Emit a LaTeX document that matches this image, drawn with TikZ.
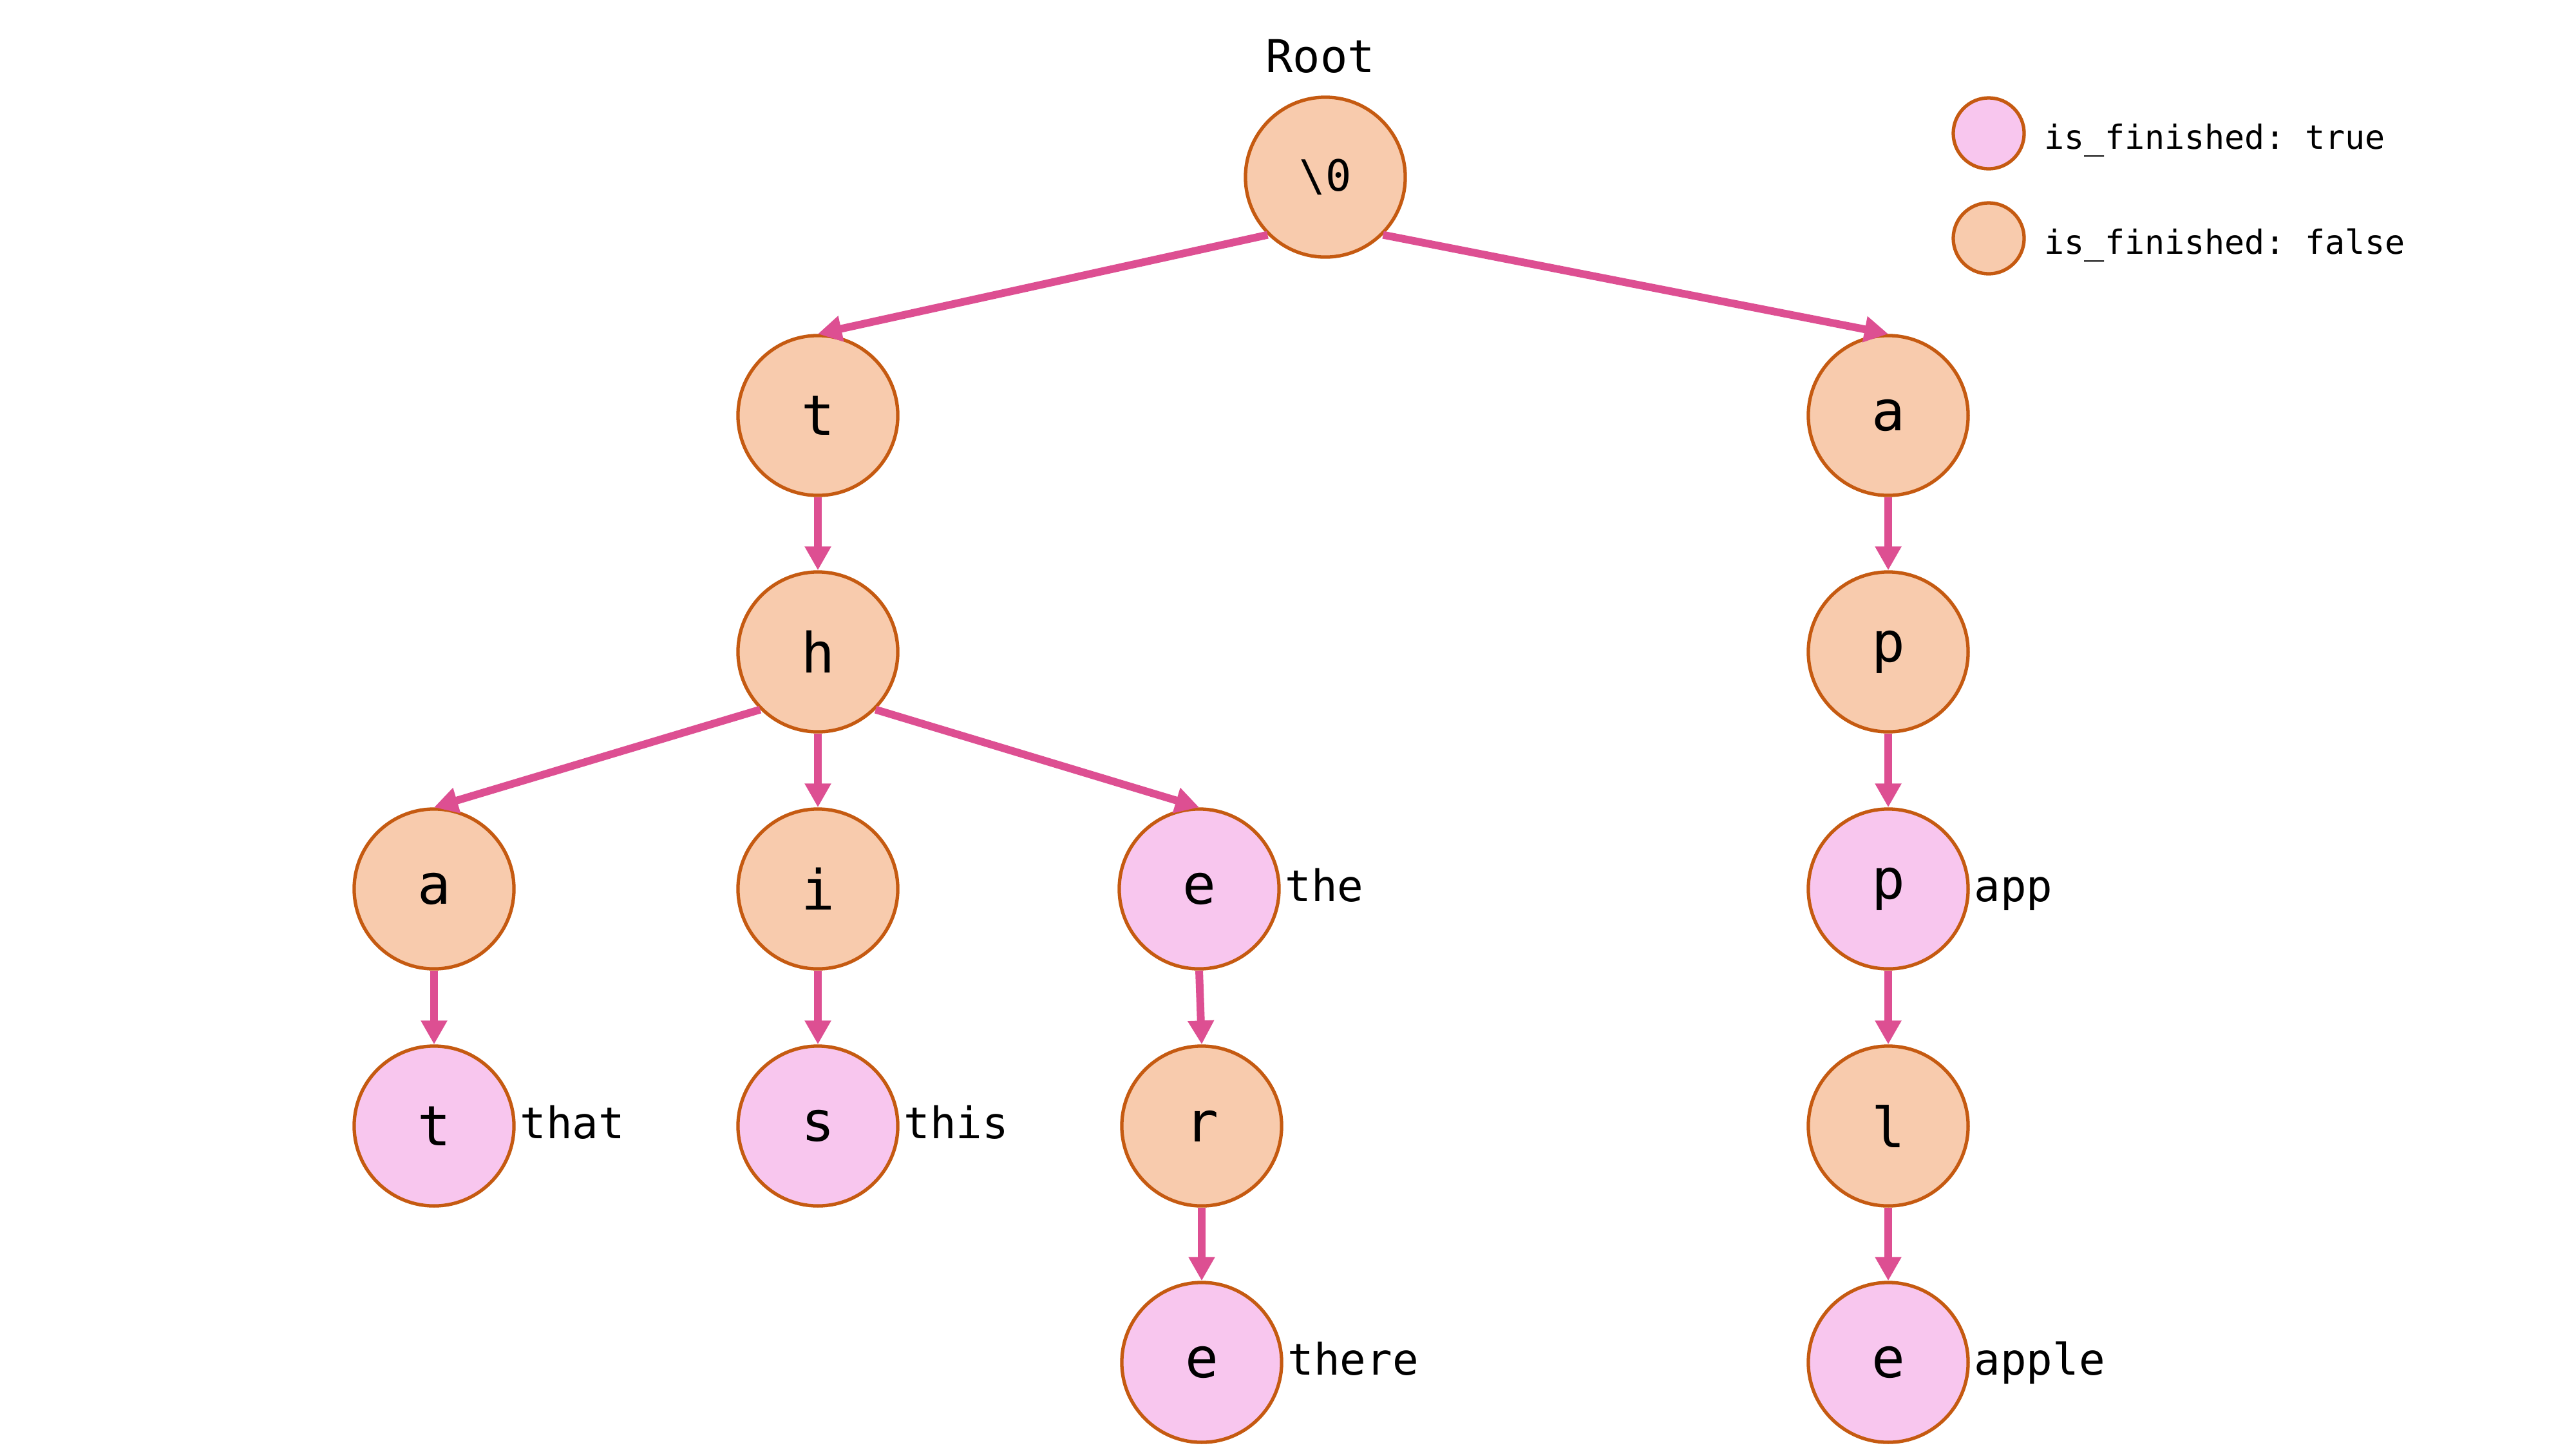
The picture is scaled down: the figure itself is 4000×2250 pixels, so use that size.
\documentclass[tikz,border=0pt]{standalone}
\usepackage{fontspec}
\setmonofont{DejaVu Sans Mono}
\usetikzlibrary{arrows.meta,calc}
\definecolor{nodeorange}{HTML}{F8CBAD}
\definecolor{nodepink}{HTML}{F8C6EE}
\definecolor{edgeorange}{HTML}{C55A11}
\definecolor{linkpink}{HTML}{DD4F92}
\begin{document}
\begin{tikzpicture}[x=0.01cm,y=-0.01cm,
  trienode/.style={circle, draw=edgeorange, line width=1.5pt, minimum size=2.48cm, inner sep=0pt, font=\ttfamily\fontsize{24.5}{29}\selectfont},
  falsenode/.style={trienode, fill=nodeorange},
  truenode/.style={trienode, fill=nodepink},
  legendnode/.style={circle, draw=edgeorange, line width=1.5pt, minimum size=1.1cm, inner sep=0pt},
  link/.style={draw=linkpink, line width=3.4pt, -{Triangle[width=11pt,length=10.5pt]}},
  word/.style={anchor=base west, inner sep=0pt, font=\ttfamily\fontsize{19.2}{23}\selectfont},
  legendtext/.style={anchor=base west, inner sep=0pt, font=\ttfamily\fontsize{14.7}{18}\selectfont},
]
\useasboundingbox (0,0) rectangle (4000,2250);
\fill[white] (0,0) rectangle (4000,2250);

% nodes
\node[falsenode, font=\ttfamily\fontsize{19}{23}\selectfont] (root) at (2058,275) {\textbackslash 0};
\node[anchor=base, inner sep=0pt, font=\ttfamily\fontsize{20}{24}\selectfont] (rootlabel) at (2050,112) {Root};

\node[falsenode] (t1) at (1270,645) {t};
\node[falsenode] (h) at (1270,1012) {h};
\node[falsenode] (a1) at (674,1380) {a};
\node[truenode] (t2) at (674,1748) {t};
\node[falsenode] (i) at (1270,1380) {i};
\node[truenode] (s) at (1270,1748) {s};
\node[truenode] (e1) at (1862,1380) {e};
\node[falsenode] (r) at (1866,1748) {r};
\node[truenode] (e2) at (1866,2115) {e};

\node[falsenode] (a2) at (2932,645) {a};
\node[falsenode] (p1) at (2932,1012) {p};
\node[truenode] (p2) at (2932,1380) {p};
\node[falsenode] (l) at (2932,1748) {l};
\node[truenode] (e3) at (2932,2115) {e};

% word labels
\node[word] (w1) at ($(t2.east)+(6,19)$) {that};
\node[word] (w2) at ($(s.east)+(6,19)$) {this};
\node[word] (w3) at ($(e1.east)+(6,19)$) {the};
\node[word] (w4) at ($(e2.east)+(6,19)$) {there};
\node[word] (w5) at ($(p2.east)+(6,19)$) {app};
\node[word] (w6) at ($(e3.east)+(6,19)$) {apple};

% links
\draw[link] (root.south west) -- (t1.north);
\draw[link] (root.south east) -- (a2.north);
\draw[link] (t1.south) -- (h.north);
\draw[link] (h.south west) -- (a1.north);
\draw[link] (h.south) -- (i.north);
\draw[link] (h.south east) -- (e1.north);
\draw[link] (a1.south) -- (t2.north);
\draw[link] (i.south) -- (s.north);
\draw[link] (e1.south) -- (r.north);
\draw[link] (r.south) -- (e2.north);
\draw[link] (a2.south) -- (p1.north);
\draw[link] (p1.south) -- (p2.north);
\draw[link] (p2.south) -- (l.north);
\draw[link] (l.south) -- (e3.north);

% legend
\node[legendnode, fill=nodepink] (legtrue) at (3088,207) {};
\node[legendnode, fill=nodeorange] (legfalse) at (3088,370) {};
\node[legendtext] (legtruetext) at ($(legtrue.center)+(86,24)$) {is\_finished: true};
\node[legendtext] (legfalsetext) at ($(legfalse.center)+(86,24)$) {is\_finished: false};
\end{tikzpicture}
\end{document}
